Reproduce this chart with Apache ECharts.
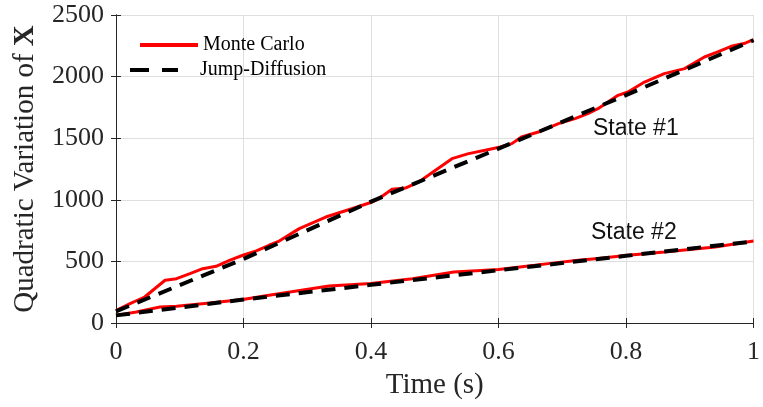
<!DOCTYPE html>
<html>
<head>
<meta charset="utf-8">
<script src="https://cdn.jsdelivr.net/npm/echarts@6/dist/echarts.min.js"></script>
<style>
  html, body { margin: 0; padding: 0; background: #fff; }
  #chart { width: 763px; height: 407px; }
</style>
</head>
<body>
<div id="chart"></div>
<script>
// Quadratic variation of X over time: Monte Carlo paths vs. jump-diffusion model
const xTicks = [0, 0.2, 0.4, 0.6, 0.8, 1];
const yTicks = [0, 500, 1000, 1500, 2000, 2500];

// State #1, Monte Carlo
const mc1Time = [0, 0.022, 0.045, 0.064, 0.077, 0.095, 0.116, 0.136, 0.157, 0.178, 0.199, 0.22, 0.24, 0.256,
  0.2875, 0.329, 0.371, 0.402, 0.4125, 0.433, 0.454, 0.475, 0.49, 0.527, 0.553, 0.579, 0.603, 0.621, 0.636,
  0.6625, 0.694, 0.72, 0.74, 0.756, 0.7875, 0.803, 0.829, 0.86, 0.892, 0.923, 0.944, 0.965, 0.985, 1.0];
const mc1Value = [100, 157, 211, 292, 347, 360, 401, 441, 460, 509, 550, 585, 631, 665,
  766, 860, 929, 982, 1010, 1085, 1095, 1145, 1199, 1334, 1375, 1402, 1429, 1456, 1510,
  1550, 1618, 1659, 1700, 1740, 1848, 1875, 1956, 2024, 2065, 2159, 2200, 2246, 2268, 2300];

// State #2, Monte Carlo
const mc2Time = [0, 0.032, 0.069, 0.095, 0.147, 0.199, 0.24, 0.334, 0.4, 0.465, 0.53, 0.6, 0.657, 0.678,
  0.725, 0.756, 0.803, 0.86, 0.94, 1.0];
const mc2Value = [62, 89, 130, 136, 162, 190, 225, 300, 320, 360, 414, 435, 468, 482,
  509, 523, 550, 576, 617, 665];

// Jump-diffusion expectation, both states
const jdTime = [0, 0.2, 0.4, 0.6, 0.8, 1.0];
const jd1Value = [95, 520, 985, 1415, 1850, 2295];
const jd2Value = [62, 190, 310, 428, 545, 662];

const pairs = (t, v) => t.map((x, i) => [x, v[i]]);

const axisColor = '#262626';
const serif = '"Liberation Serif", "Times New Roman", serif';
const sans = '"Liberation Sans", Arial, sans-serif';

const chart = echarts.init(document.getElementById('chart'));

const boxAxis = {
  axisLine: { show: true, lineStyle: { color: axisColor, width: 1 } },
  axisTick: { show: true, inside: true, length: 5, lineStyle: { color: axisColor } },
  axisLabel: { show: false },
  splitLine: { show: false }
};

chart.setOption({
  animation: false,
  backgroundColor: '#ffffff',
  grid: { left: 116, right: 6, top: 15, bottom: 84 },
  legend: [
    {
      data: ['Monte Carlo'],
      left: 138, top: 35, padding: 0,
      itemWidth: 58, itemHeight: 14,
      itemStyle: { opacity: 0 },
      lineStyle: { width: 4 },
      textStyle: { fontFamily: serif, fontSize: 20, color: '#000' }
    },
    {
      data: ['Jump-Diffusion'],
      left: 128, top: 60, padding: 0,
      itemWidth: 48, itemHeight: 14,
      itemStyle: { opacity: 0 },
      lineStyle: { width: 4, type: [19, 13] },
      textStyle: { fontFamily: serif, fontSize: 20, color: '#000', padding: [0, 0, 0, 17] }
    }
  ],
  xAxis: [
    {
      type: 'value', min: 0, max: 1, interval: 0.2,
      name: 'Time (s)', nameLocation: 'middle', nameGap: 48,
      nameTextStyle: { fontFamily: serif, fontSize: 29, color: axisColor },
      axisLine: { show: true, lineStyle: { color: axisColor, width: 1 } },
      axisTick: { show: true, inside: true, length: 5, lineStyle: { color: axisColor } },
      axisLabel: {
        fontFamily: serif, fontSize: 26, color: axisColor, margin: 16,
        formatter: v => String(xTicks.find(t => Math.abs(t - v) < 1e-9) ?? v)
      },
      splitLine: { show: true, lineStyle: { color: '#dfdfdf', width: 1 } }
    },
    Object.assign({ type: 'value', min: 0, max: 1, interval: 0.2, position: 'top' }, boxAxis)
  ],
  yAxis: [
    {
      type: 'value', min: 0, max: 2500, interval: 500,
      name: '{n|Quadratic Variation of }{b|X}', nameLocation: 'middle', nameGap: 76, nameRotate: 90,
      nameTextStyle: {
        rich: {
          n: { fontFamily: serif, fontSize: 29, color: axisColor },
          b: { fontFamily: serif, fontSize: 29, color: axisColor, fontWeight: 'bold' }
        }
      },
      axisLine: { show: true, lineStyle: { color: axisColor, width: 1 } },
      axisTick: { show: true, inside: true, length: 5, lineStyle: { color: axisColor } },
      axisLabel: {
        fontFamily: serif, fontSize: 26, color: axisColor, margin: 12,
        formatter: v => String(yTicks.find(t => t === v) ?? v)
      },
      splitLine: { show: true, lineStyle: { color: '#dfdfdf', width: 1 } }
    },
    Object.assign({ type: 'value', min: 0, max: 2500, interval: 500, position: 'right' }, boxAxis)
  ],
  graphic: [
    { type: 'text', left: 593, top: 117,
      style: { text: 'State #1', fontFamily: sans, fontSize: 23, fill: '#111' } },
    { type: 'text', left: 591, top: 221,
      style: { text: 'State #2', fontFamily: sans, fontSize: 23, fill: '#111' } }
  ],
  series: [
    {
      name: 'Monte Carlo', type: 'line', data: pairs(mc1Time, mc1Value),
      showSymbol: false, symbol: 'none', z: 2,
      lineStyle: { color: '#ff0000', width: 3 }, itemStyle: { color: '#ff0000' }
    },
    {
      name: 'Monte Carlo', type: 'line', data: pairs(mc2Time, mc2Value),
      showSymbol: false, symbol: 'none', z: 2,
      lineStyle: { color: '#ff0000', width: 3 }, itemStyle: { color: '#ff0000' }
    },
    {
      name: 'Jump-Diffusion', type: 'line', data: pairs(jdTime, jd1Value),
      showSymbol: false, symbol: 'none', z: 3,
      lineStyle: { color: '#000000', width: 4, type: [14, 9] }, itemStyle: { color: '#000000' }
    },
    {
      name: 'Jump-Diffusion', type: 'line', data: pairs(jdTime, jd2Value),
      showSymbol: false, symbol: 'none', z: 3,
      lineStyle: { color: '#000000', width: 4, type: [14, 9] }, itemStyle: { color: '#000000' }
    }
  ]
});
</script>
</body>
</html>
